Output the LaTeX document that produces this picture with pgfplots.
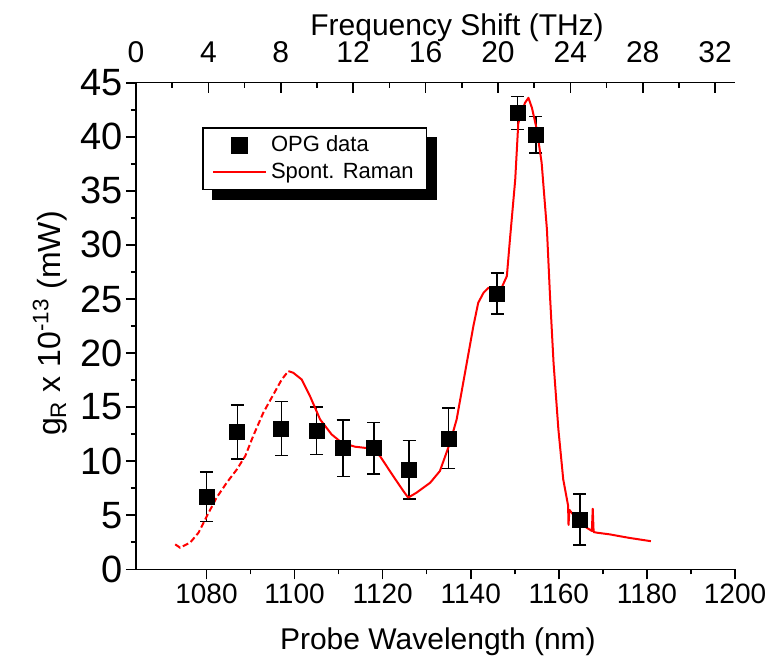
\documentclass[border=0pt]{standalone}
\usepackage{fontspec}
\setmainfont{Liberation Sans}
\usepackage{pgfplots}
\pgfplotsset{compat=1.18}
\pgfdeclarelayer{background}
\pgfsetlayers{background,main}

\pgfplotsset{
  opglegend/.style={legend image code/.code={\draw[mark repeat=2,mark phase=2,##1] plot coordinates {(0pt,0pt) (13.25pt,0pt) (26.5pt,0pt)};}},
  ramanlegend/.style={legend image code/.code={\path[draw=none,fill=none] (0pt,-3.75pt) rectangle (26.5pt,3.75pt); \draw[##1] (0pt,0pt) -- (26.5pt,0pt);}},
}

\pgfplotstableread{
x      y     e
1080.0  6.7  2.3
1087.0 12.7  2.5
1097.0 13.0  2.5
1105.0 12.8  2.2
1111.0 11.2  2.6
1118.0 11.2  2.4
1126.0  9.2  2.7
1135.0 12.1  2.8
1146.0 25.5  1.9
1150.6 42.2  1.5
1154.8 40.2  1.7
1164.8  4.6  2.35
}\opgdata

\pgfplotstableread{
x       y
1072.9  2.31
1074.0  2.00
1076.3  2.47
1078.2  3.39
1080.1  4.93
1082.3  6.63
1084.6  8.01
1086.9  9.24
1088.8 10.47
1090.6 12.32
1092.9 14.48
1095.2 16.17
1097.1 17.56
1098.6 18.33
}\ramanleft

\pgfplotstableread{
x       y
1098.6 18.33
1099.7 18.18
1101.6 17.56
1103.5 16.02
1105.8 13.86
1108.4 12.48
1110.7 11.71
1113.7 11.34
1117.5 11.16
1119.4 10.47
1122.4  8.62
1124.7  7.24
1125.8  6.63
1127.7  7.09
1130.8  8.01
1133.0  9.09
1135.3 11.71
1136.8 13.86
1138.7 18.18
1140.6 22.49
1141.7 24.65
1142.9 25.57
1144.0 26.03
1145.1 25.88
1147.0 26.03
1148.2 27.11
1148.9 30.50
1150.1 36.04
1150.8 41.28
1152.3 43.13
1153.1 43.60
1153.9 42.67
1155.0 40.67
1156.1 37.59
1157.3 31.42
1158.0 25.26
1158.8 19.10
1159.9 12.94
1161.0  8.32
1162.1  5.90
1162.2  4.10
1162.4  5.50
1164.1  4.62
1166.3  3.85
1167.5  3.55
1167.7  5.60
1167.9  3.45
1168.6  3.39
1171.6  3.23
1174.0  3.05
1176.1  2.90
1178.5  2.75
1180.9  2.60
}\ramanright

\begin{document}
\begin{tikzpicture}
\begin{axis}[name=main,
  width=299.5pt, height=243.3pt, scale only axis,
  xmin=1064, xmax=1200, ymin=0, ymax=45,
  axis x line*=bottom, axis y line*=left,
  axis line style={line width=0.8pt,-},
  every tick/.style={black,line width=0.8pt},
  tick align=outside, major tick length=5pt, minor tick length=2.5pt,
  xtick={1080,1100,...,1200}, minor x tick num=1,
  ytick={0,5,...,45}, minor y tick num=1,
  /pgf/number format/assume math mode=true,
  /pgf/number format/set thousands separator={},
  xticklabel style={font=\fontsize{14}{16}\selectfont, inner sep=0pt, yshift=-2pt},
  yticklabel style={font=\fontsize{19}{22}\selectfont, inner sep=0pt, xshift=-1.6pt},
  xlabel={Probe Wavelength (nm)},
  xlabel style={font=\fontsize{15}{18}\selectfont, at={(axis description cs:0.504,-0.1638)}, anchor=base, inner sep=0pt},
  ylabel={g\textsubscript{R} x 10\textsuperscript{-13} (mW)},
  ylabel style={font=\fontsize{16}{19}\selectfont, at={(axis description cs:-0.1135,0.505)}, anchor=south, inner sep=0pt},
  legend cell align=left,
  legend style={name=leg, at={(axis description cs:0.1107,0.9083)}, anchor=north west,
    draw=black, line width=0.7pt, fill=white,
    font=\fontsize{11}{13}\selectfont, inner xsep=4.5pt, inner ysep=2pt,
    row sep=0pt},
]
\addlegendimage{only marks, mark=square*, mark size=3.75pt, black, opglegend}
\addlegendentry{OPG data}
\addlegendimage{red, line width=1pt, ramanlegend}
\addlegendentry{Spont. Raman}
\addplot[only marks, mark=square*, mark size=3.75pt, black, forget plot,
  error bars/.cd, y dir=both, y explicit,
  error bar style={line width=0.7pt, black},
  error mark options={rotate=90, mark size=3.25pt, line width=0.7pt, black}]
  table[x=x, y=y, y error=e] {\opgdata};
\addplot[red, line width=1pt, dash pattern=on 3pt off 1.5pt, forget plot] table[x=x,y=y] {\ramanleft};
\addplot[red, line width=1pt, line join=round, forget plot]
  table[x=x,y=y] {\ramanright};
\end{axis}
\begin{axis}[
  width=299.5pt, height=243.3pt, scale only axis,
  xmin=0, xmax=33.1, ymin=0, ymax=45,
  axis x line*=top, hide y axis,
  axis line style={line width=0.8pt,-},
  every tick/.style={black,line width=0.8pt},
  tick align=inside, major tick length=5pt, minor tick length=2.5pt,
  xtick={0,4,...,32}, minor x tick num=1,
  /pgf/number format/assume math mode=true,
  xticklabel style={font=\fontsize{15}{18}\selectfont, inner sep=0pt, yshift=9.85pt},
  xlabel={Frequency Shift (THz)},
  xlabel style={font=\fontsize{15}{18}\selectfont, at={(axis description cs:0.536,1.098)}, anchor=base, inner sep=0pt},
]
\end{axis}
\begin{pgfonlayer}{background}
\fill[black] ([xshift=5pt,yshift=-5pt]leg.south west) rectangle ([xshift=5pt,yshift=-5pt]leg.north east);
\end{pgfonlayer}
\pgfresetboundingbox
\path[use as bounding box] (main.south west) ++(-68pt,-48.35pt) rectangle ++(384.5pt,333pt);
\end{tikzpicture}
\end{document}
